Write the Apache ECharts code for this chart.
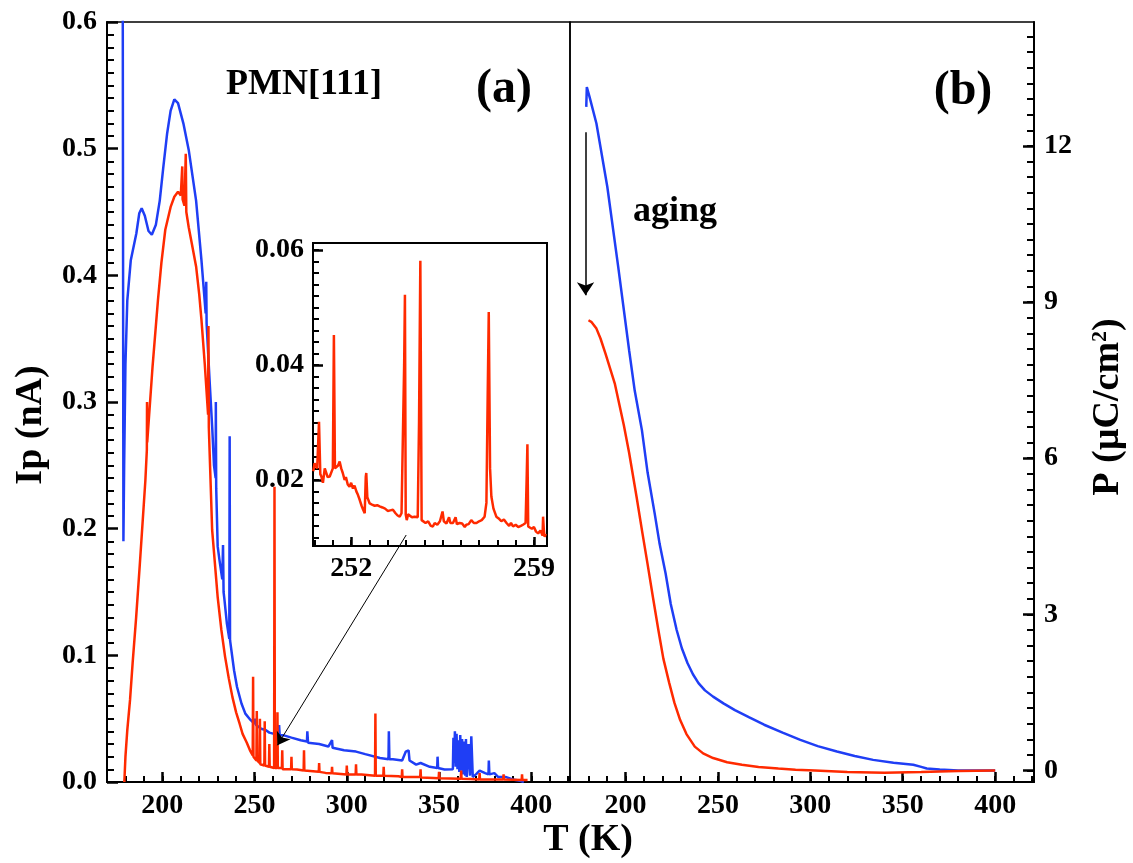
<!DOCTYPE html>
<html><head><meta charset="utf-8">
<script src="https://cdn.jsdelivr.net/npm/echarts@6/dist/echarts.min.js"></script>
<style>html,body{margin:0;padding:0;background:#fff}#c{width:1133px;height:863px}</style>
</head><body><div id="c"></div><script>
// ---------- DATA ----------
// (a) pyroelectric current Ip (nA) vs T (K)
const ipBlue = [
[178.3,0.9],[178.9,0.19],[179.3,0.25],[180,0.33],[181,0.38],[182.9,0.412],[185.9,0.433],[187.5,0.449],[188.8,0.453],
[190.5,0.447],[192.5,0.435],[194.3,0.432],[196.5,0.44],[198.6,0.459],[200.5,0.485],[202.6,0.512],[204.5,0.53],
[206.5,0.539],[208.5,0.536],[211.4,0.52],[214.3,0.499],[218.3,0.459],[221.2,0.412],[223.5,0.37],[223.8,0.395],
[224.0,0.362],[225.5,0.32],[227.1,0.278],[228,0.25],[228.9,0.24],[229.0,0.3],[229.2,0.232],[230,0.186],[231,0.175],
[232.5,0.16],[232.9,0.187],[233.2,0.15],[233.6,0.145],[235,0.125],[236.3,0.113],[236.5,0.273],[236.7,0.112],
[238.9,0.088],[240.5,0.075],[242.9,0.062],[245,0.054],[247.8,0.049],[250,0.046],[250.4,0.05],[250.8,0.045],
[253.6,0.042],[256,0.041],[258,0.039],[263.1,0.037],[263.3,0.045],[263.6,0.037],[265.4,0.037],[270,0.035],
[275,0.033],[278.4,0.032],[278.6,0.04],[279,0.031],[285,0.03],[290,0.028],[292,0.033],[292.3,0.027],[298.5,0.025],
[305,0.024],[310,0.022],[318,0.019],[322.6,0.018],[322.8,0.04],[323.1,0.018],[325,0.018],[330,0.017],[332,0.024],
[333.5,0.025],[334,0.017],[337.6,0.0137],[340,0.015],[345,0.012],[349,0.011],[349.2,0.02],[349.5,0.011],[353,0.0098],
[357.5,0.01],[357.8,0.035],[358.2,0.015],[358.6,0.04],[359,0.012],[359.5,0.038],[360,0.01],[360.5,0.033],[361,0.008],
[361.5,0.037],[362,0.009],[362.5,0.034],[363,0.006],[363.5,0.032],[364.2,0.005],[364.6,0.034],[365,0.004],
[366,0.03],[366.8,0.005],[367.5,0.036],[368.3,0.004],[370,0.006],[372,0.009],[375,0.007],[376.8,0.006],[377,0.017],
[377.3,0.006],[380,0.007],[382,0.004],[386,0.004],[390,0.002],[394,0.001],[396,0.0]
];
const ipRed = [
[179.4,0],[180,0.02],[181,0.041],[182.5,0.065],[183.9,0.094],[185.8,0.13],[187.8,0.172],[189.3,0.205],[190.8,0.238],
[191.6,0.262],[191.7,0.3],[191.8,0.268],[194.7,0.328],[197.6,0.38],[199.5,0.41],[201.6,0.436],[204.5,0.454],
[206.5,0.462],[208.5,0.466],[210,0.463],[210.8,0.486],[211,0.46],[212,0.455],[212.7,0.496],[213,0.45],[214.3,0.438],
[216,0.425],[218.3,0.407],[220,0.385],[221.2,0.365],[223,0.33],[224.8,0.29],[225,0.36],[225.2,0.28],[227,0.199],
[230,0.146],[232,0.12],[234,0.099],[236,0.082],[238,0.067],[240,0.055],[241.9,0.046],[243.5,0.038],[245.8,0.031],
[247.5,0.025],[249.0,0.021],[249.2,0.083],[249.4,0.02],[249.7,0.019],[251.0,0.017],[251.2,0.056],[251.4,0.017],
[252.7,0.015],[252.9,0.05],[253.1,0.014],[253.6,0.0137],[255.3,0.013],[255.5,0.048],[255.7,0.013],[257.8,0.012],
[258,0.03],[258.2,0.012],[260.6,0.011],[260.8,0.233],[261,0.011],[262.2,0.011],[262.4,0.055],[262.6,0.011],
[264.8,0.011],[265,0.025],[265.2,0.01],[269.8,0.01],[270,0.02],[270.2,0.01],[273,0.0098],[276.6,0.009],[276.8,0.025],
[277,0.009],[284.8,0.008],[285,0.015],[285.2,0.008],[288.5,0.0072],[291.8,0.007],[292,0.012],[292.2,0.007],
[299.8,0.006],[300,0.013],[300.2,0.006],[304.8,0.006],[305,0.014],[305.2,0.006],[308,0.006],[315.3,0.005],
[315.5,0.054],[315.7,0.005],[319.8,0.005],[320,0.012],[320.2,0.005],[328,0.0045],[329.8,0.004],[330,0.01],
[330.2,0.004],[339.8,0.004],[340,0.01],[340.2,0.0035],[347,0.0032],[349.8,0.003],[350,0.008],[350.2,0.003],
[361.8,0.0025],[362,0.009],[362.2,0.0025],[367,0.0024],[371.8,0.002],[372,0.007],[372.2,0.002],[384.8,0.002],
[385,0.006],[385.2,0.002],[394.8,0.0015],[395,0.006],[395.2,0.0015],[398,0.0015]
];
// (b) polarization P (uC/cm2) vs T (K)
const pBlue = [
[178.8,12.75],[179.1,13.13],[180.5,12.95],[184.3,12.43],[190.2,11.21],[196.1,9.67],[202,8.07],[205,7.3],[208.9,6.54],
[212,5.72],[215.8,4.94],[218.5,4.35],[221.7,3.79],[224.5,3.2],[227.7,2.7],[230.5,2.35],[233.6,2.06],[236.5,1.85],
[239.5,1.68],[243,1.54],[247.4,1.42],[253,1.29],[259.2,1.16],[267,1.02],[275,0.88],[285,0.73],[294.6,0.59],
[304,0.47],[314.4,0.365],[324,0.28],[334,0.205],[345,0.15],[355.7,0.11],[360,0.07],[363,0.04],[370,0.02],
[380,0.0],[400,0.0]
];
const pRed = [
[180,8.65],[181.5,8.62],[184.3,8.49],[186.5,8.3],[189.2,8.01],[194.2,7.44],[199.1,6.64],[202,6.1],[206,5.26],
[209,4.6],[211.9,3.98],[215,3.3],[217.8,2.7],[220.5,2.15],[223.7,1.68],[226.5,1.3],[229.6,0.97],[233,0.7],
[237.5,0.46],[242,0.33],[247.4,0.24],[255,0.16],[263,0.11],[272,0.07],[282.7,0.04],[292,0.015],[302.5,0.0],
[320,-0.03],[340,-0.04],[360,-0.03],[380,-0.01],[400,0.0]
];
// inset: Ip (nA), aged sample, 250.5-259.5 K
const insetRed = [
[250.55,0.0215],[250.6,0.0229],[250.7,0.022],[250.77,0.0301],[250.82,0.021],[250.86,0.0206],[250.92,0.0195],
[250.99,0.022],[251.05,0.0218],[251.1,0.0205],[251.18,0.0206],[251.25,0.0208],[251.3,0.022],[251.34,0.0452],
[251.38,0.022],[251.43,0.0217],[251.5,0.0225],[251.56,0.0232],[251.62,0.022],[251.68,0.0212],[251.75,0.02],
[251.8,0.0205],[251.87,0.0192],[251.94,0.0188],[252.0,0.0195],[252.07,0.0185],[252.13,0.019],[252.2,0.018],
[252.26,0.0174],[252.33,0.0165],[252.4,0.0155],[252.46,0.0148],[252.52,0.0142],[252.56,0.0205],[252.58,0.0212],
[252.62,0.017],[252.71,0.0159],[252.8,0.0157],[252.9,0.0155],[253.0,0.0156],[253.09,0.0154],[253.2,0.0152],
[253.3,0.015],[253.4,0.0146],[253.5,0.0147],[253.6,0.0148],[253.7,0.0142],[253.78,0.0138],[253.86,0.0136],
[253.93,0.0142],[254.0,0.014],[254.03,0.04],[254.06,0.0522],[254.09,0.014],[254.13,0.013],[254.18,0.014],
[254.25,0.0138],[254.33,0.0135],[254.43,0.0136],[254.55,0.0135],[254.6,0.03],[254.65,0.0581],[254.7,0.013],
[254.75,0.013],[254.85,0.0125],[254.95,0.0128],[255.05,0.012],[255.13,0.0119],[255.2,0.0125],[255.3,0.0122],
[255.4,0.0128],[255.5,0.0145],[255.55,0.0128],[255.65,0.0124],[255.75,0.0135],[255.8,0.0125],[255.9,0.0125],
[256.0,0.0135],[256.05,0.0123],[256.15,0.0125],[256.25,0.0124],[256.35,0.0118],[256.41,0.0122],[256.5,0.0123],
[256.6,0.013],[256.7,0.0125],[256.8,0.0125],[256.9,0.0128],[257.0,0.013],[257.11,0.0136],[257.18,0.016],
[257.23,0.035],[257.27,0.0492],[257.32,0.022],[257.37,0.0171],[257.45,0.015],[257.56,0.0136],[257.65,0.0133],
[257.75,0.0128],[257.85,0.0131],[257.95,0.0125],[258.05,0.012],[258.12,0.0125],[258.2,0.0119],[258.3,0.0122],
[258.4,0.0118],[258.5,0.012],[258.58,0.0122],[258.68,0.0125],[258.72,0.02],[258.75,0.0262],[258.78,0.0119],
[258.84,0.0119],[258.92,0.0115],[259.0,0.0118],[259.08,0.011],[259.16,0.0107],[259.25,0.0112],[259.33,0.0103],
[259.35,0.0136],[259.38,0.0112],[259.41,0.0101],[259.45,0.0106]
];
// tick labels
const tMajor = [200, 250, 300, 350, 400];
const pMajor = [0, 3, 6, 9, 12];
const insetXMajor = [252, 259];
const insetYMajor = [0.02, 0.04, 0.06];

// ---------- CHART ----------
function steps(a, b, s) { const r = []; for (let i = 0; a + i * s <= b + 1e-9; i++) r.push(+(a + i * s).toFixed(6)); return r; }
const F = 'Liberation Serif';
const BLUE = '#1f3ef5', RED = '#ff2a00';
const lab = { fontFamily: F, fontWeight: 'bold', fontSize: 28, color: '#000' };
const line = { show: true, onZero: false, lineStyle: { color: '#000', width: 2 } };
const noLine = { show: false, onZero: false };
const MAJ = { color: '#000', width: 2.5 }, MIN = { color: '#000', width: 2 };

function xPair(grid, min, max, majors, minors, majorLen, minorLen, margin) {
  return [
    { type: 'value', gridIndex: grid, min: min, max: max, position: 'bottom', axisLine: line,
      axisTick: { show: true, inside: true, length: majorLen, customValues: majors, lineStyle: MAJ },
      axisLabel: Object.assign({ margin: margin, customValues: majors }, lab), splitLine: { show: false } },
    { type: 'value', gridIndex: grid, min: min, max: max, position: 'bottom', axisLine: noLine,
      axisTick: { show: true, inside: true, length: minorLen, customValues: minors, lineStyle: MIN },
      axisLabel: { show: false }, splitLine: { show: false } }
  ];
}
function yPair(grid, pos, min, max, majors, minors, majorLen, minorLen, margin, fmt) {
  return [
    { type: 'value', gridIndex: grid, min: min, max: max, position: pos, axisLine: line,
      axisTick: { show: true, inside: true, length: majorLen, customValues: majors, lineStyle: MAJ },
      axisLabel: Object.assign({ margin: margin, customValues: majors, formatter: fmt }, lab), splitLine: { show: false } },
    { type: 'value', gridIndex: grid, min: min, max: max, position: pos, axisLine: noLine,
      axisTick: { show: true, inside: true, length: minorLen, customValues: minors, lineStyle: MIN },
      axisLabel: { show: false }, splitLine: { show: false } }
  ];
}

const xAxes = [].concat(
  xPair(0, 170, 421, tMajor, steps(170, 420, 10), 10, 6, 10),
  xPair(1, 170, 421, tMajor, steps(170, 420, 10), 10, 6, 10),
  xPair(2, 250.54, 259.5, insetXMajor, steps(250.6, 259.5, 0.7), 9, 6, 9)
);
const yAxes = [
  { type: 'value', gridIndex: 0, min: 0, max: 0.6, interval: 0.1, position: 'left', axisLine: line,
    axisTick: { show: true, inside: true, length: 11, lineStyle: MAJ },
    minorTick: { show: true, splitNumber: 10, length: 7, lineStyle: MIN },
    axisLabel: Object.assign({ margin: 10, formatter: v => v.toFixed(1) }, lab),
    splitLine: { show: false }, minorSplitLine: { show: false } }
].concat(
  yPair(1, 'right', -0.22, 14.38, pMajor, steps(0, 14.1, 0.3), 11, 7, 10, v => String(v)),
  yPair(2, 'left', 0.0085, 0.0612, insetYMajor, steps(0.01, 0.06, 0.002), 10, 6, 9, v => v.toFixed(2))
);

const option = {
  animation: false,
  backgroundColor: '#fff',
  grid: [
    { left: 107, top: 22, width: 463, height: 760, show: true, borderColor: '#000', borderWidth: 1.5, containLabel: false },
    { left: 570, top: 22, width: 464, height: 760, show: true, borderColor: '#000', borderWidth: 1.5, containLabel: false },
    { left: 313, top: 243, width: 234, height: 303, show: true, borderColor: '#000', borderWidth: 2, containLabel: false }
  ],
  xAxis: xAxes,
  yAxis: yAxes,
  series: [
    { type: 'line', xAxisIndex: 0, yAxisIndex: 0, data: ipBlue, showSymbol: false, lineStyle: { color: BLUE, width: 2.5 }, itemStyle: { color: BLUE } },
    { type: 'line', xAxisIndex: 0, yAxisIndex: 0, data: ipRed, showSymbol: false, lineStyle: { color: RED, width: 2.5 }, itemStyle: { color: RED },
      markLine: { silent: true, animation: false, symbol: ['none', 'arrow'], symbolSize: 12, label: { show: false },
        lineStyle: { color: '#000', width: 1, type: 'solid' },
        data: [[{ coord: [332.2, 0.195] }, { coord: [262.4, 0.029] }]] } },
    { type: 'line', xAxisIndex: 2, yAxisIndex: 1, data: pBlue, showSymbol: false, lineStyle: { color: BLUE, width: 2.5 }, itemStyle: { color: BLUE } },
    { type: 'line', xAxisIndex: 2, yAxisIndex: 1, data: pRed, showSymbol: false, lineStyle: { color: RED, width: 2.5 }, itemStyle: { color: RED },
      markLine: { silent: true, animation: false, symbol: ['none', 'arrow'], symbolSize: 13, label: { show: false },
        lineStyle: { color: '#000', width: 1.5, type: 'solid' },
        data: [[{ coord: [178.4, 12.26] }, { coord: [178.4, 9.13] }]] } },
    { type: 'line', xAxisIndex: 4, yAxisIndex: 3, data: insetRed, showSymbol: false, lineStyle: { color: RED, width: 2.5 }, itemStyle: { color: RED } }
  ],
  graphic: [
    { type: 'text', x: 304, y: 85, style: { text: 'PMN[111]', font: 'bold 36px "Liberation Serif"', fill: '#000', align: 'center', verticalAlign: 'middle' } },
    { type: 'text', x: 504, y: 90, style: { text: '(a)', font: 'bold 48px "Liberation Serif"', fill: '#000', align: 'center', verticalAlign: 'middle' } },
    { type: 'text', x: 963, y: 92, style: { text: '(b)', font: 'bold 48px "Liberation Serif"', fill: '#000', align: 'center', verticalAlign: 'middle' } },
    { type: 'text', x: 675, y: 212, style: { text: 'aging', font: 'bold 36px "Liberation Serif"', fill: '#000', align: 'center', verticalAlign: 'middle' } },
    { type: 'text', x: 588, y: 840, style: { text: 'T (K)', font: 'bold 38px "Liberation Serif"', fill: '#000', align: 'center', verticalAlign: 'middle' } },
    { type: 'text', x: 31, y: 425, rotation: Math.PI / 2, style: { text: 'Ip (nA)', font: 'bold 38px "Liberation Serif"', fill: '#000', align: 'center', verticalAlign: 'middle' } },
    { type: 'text', x: 1108, y: 407, rotation: Math.PI / 2,
      style: { text: 'P (\u00b5C/cm{s|2})', font: 'bold 38px "Liberation Serif"', fill: '#000', align: 'center', verticalAlign: 'middle',
        rich: { s: { font: 'bold 22px "Liberation Serif"', fill: '#000', verticalAlign: 'top', padding: [0, 0, 14, 0] } } } }
  ]
};
const chart = echarts.init(document.getElementById('c'), null, { renderer: 'canvas' });
chart.setOption(option);
</script></body></html>
